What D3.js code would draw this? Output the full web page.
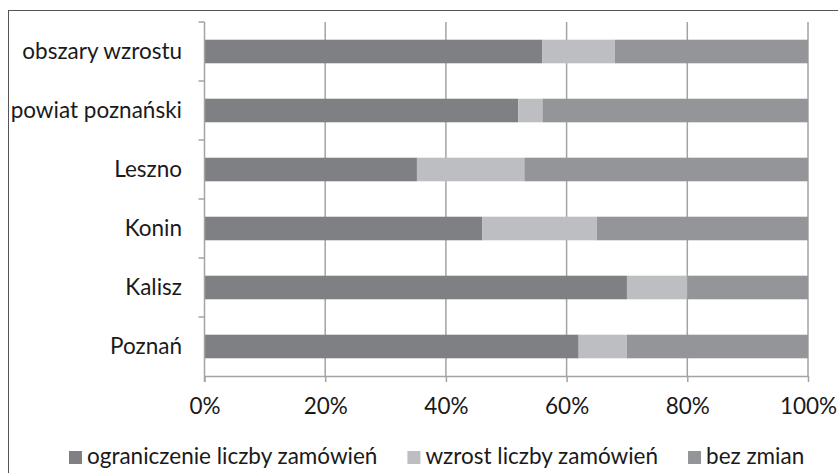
<!DOCTYPE html>
<html>
<head>
<meta charset="utf-8">
<script src="https://cdn.jsdelivr.net/npm/d3@7"></script>
<style>
  body { margin: 0; background: #fff; }
  svg text { font-family: Lato, "Open Sans", sans-serif; fill: #1a1a1a; }
</style>
</head>
<body>
<svg id="chart" width="838" height="473"></svg>
<script>
var categories = ['obszary wzrostu', 'powiat poznański', 'Leszno', 'Konin', 'Kalisz', 'Poznań'];
var seriesNames = ['ograniczenie liczby zamówień', 'wzrost liczby zamówień', 'bez zmian'];
var ograniczenie = [56, 52, 35.2, 46, 70, 62];
var wzrost = [12, 4, 17.8, 19, 10, 8];
var bezZmian = [32, 44, 47, 35, 20, 30];
var colors = ['#7f8083', '#bdbec1', '#949598'];
var tickValues = [0, 0.2, 0.4, 0.6, 0.8, 1];

var svg = d3.select('#chart');
var plotLeft = 204.5, plotRight = 808, plotTop = 22, plotBottom = 376;
var fontSize = 22.5;

// outer chart border (cut by the picture edge on right/bottom)
svg.append('rect')
   .attr('x', 8.5).attr('y', 10.5)
   .attr('width', 900).attr('height', 600)
   .attr('fill', 'none').attr('stroke', '#555').attr('stroke-width', 1);

var x = d3.scaleLinear().domain([0, 1]).range([plotLeft, plotRight]);
var y = d3.scaleBand().domain(categories).range([plotTop, plotBottom]).paddingInner(0.6).paddingOuter(0.3);
var yBand = d3.scaleBand().domain(categories).range([plotTop, plotBottom]);

// gridlines
svg.append('g')
   .selectAll('line')
   .data(tickValues.slice(1))
   .enter().append('line')
   .attr('x1', function (d) { return x(d); })
   .attr('x2', function (d) { return x(d); })
   .attr('y1', plotTop).attr('y2', plotBottom)
   .attr('stroke', '#a3a3a3').attr('stroke-width', 1.5);

// stacked bars
var rows = categories.map(function (c, i) {
  return { cat: c, a: ograniczenie[i], b: wzrost[i], c: bezZmian[i] };
});
var stack = d3.stack().keys(['a', 'b', 'c']).offset(d3.stackOffsetExpand);
var series = stack(rows);

svg.append('g')
   .selectAll('g')
   .data(series)
   .enter().append('g')
   .attr('fill', function (d, i) { return colors[i]; })
   .selectAll('rect')
   .data(function (d) { return d; })
   .enter().append('rect')
   .attr('x', function (d) { return x(d[0]); })
   .attr('width', function (d) { return x(d[1]) - x(d[0]); })
   .attr('y', function (d) { return y(d.data.cat); })
   .attr('height', y.bandwidth());

// left axis: line plus ticks at band edges
var yAxis = svg.append('g');
yAxis.append('line')
     .attr('x1', plotLeft).attr('x2', plotLeft).attr('y1', plotTop).attr('y2', plotBottom + 6)
     .attr('stroke', '#a3a3a3').attr('stroke-width', 1.5);
var edges = categories.map(function (c) { return yBand(c); });
yAxis.selectAll('line.tick')
     .data(edges)
     .enter().append('line')
     .attr('class', 'tick')
     .attr('x1', plotLeft - 6).attr('x2', plotLeft)
     .attr('y1', function (d) { return d; })
     .attr('y2', function (d) { return d; })
     .attr('stroke', '#a3a3a3').attr('stroke-width', 1.5);
yAxis.selectAll('text')
     .data(categories)
     .enter().append('text')
     .attr('x', 182)
     .attr('y', function (d) { return yBand(d) + yBand.bandwidth() / 2; })
     .attr('dy', '0.35em')
     .attr('text-anchor', 'end')
     .attr('font-size', fontSize)
     .text(function (d) { return d; });

// bottom axis
var xAxis = d3.axisBottom(x)
              .tickValues(tickValues)
              .tickFormat(d3.format('.0%'))
              .tickSize(6)
              .tickSizeOuter(0)
              .tickPadding(16);
var gx = svg.append('g')
            .attr('transform', 'translate(0,' + plotBottom + ')')
            .call(xAxis);
gx.select('.domain').attr('stroke', '#a3a3a3').attr('stroke-width', 1.5);
gx.selectAll('.tick line').attr('stroke', '#a3a3a3').attr('stroke-width', 1.5);
gx.selectAll('.tick text')
  .attr('font-size', fontSize)
  .attr('font-family', 'Lato, "Open Sans", sans-serif')
  .attr('fill', '#1a1a1a');

// legend, items placed one after another
var legendY = 464, legendX = 69, swatch = 13;
var legend = svg.append('g');
seriesNames.forEach(function (name, i) {
  var item = legend.append('g').attr('transform', 'translate(' + legendX + ',' + legendY + ')');
  item.append('rect')
      .attr('x', 0).attr('y', -swatch)
      .attr('width', swatch).attr('height', swatch)
      .attr('fill', colors[i]);
  var t = item.append('text')
              .attr('x', swatch + 5)
              .attr('font-size', fontSize)
              .text(name);
  legendX += swatch + 5 + t.node().getComputedTextLength() + 30;
});
</script>
</body>
</html>
